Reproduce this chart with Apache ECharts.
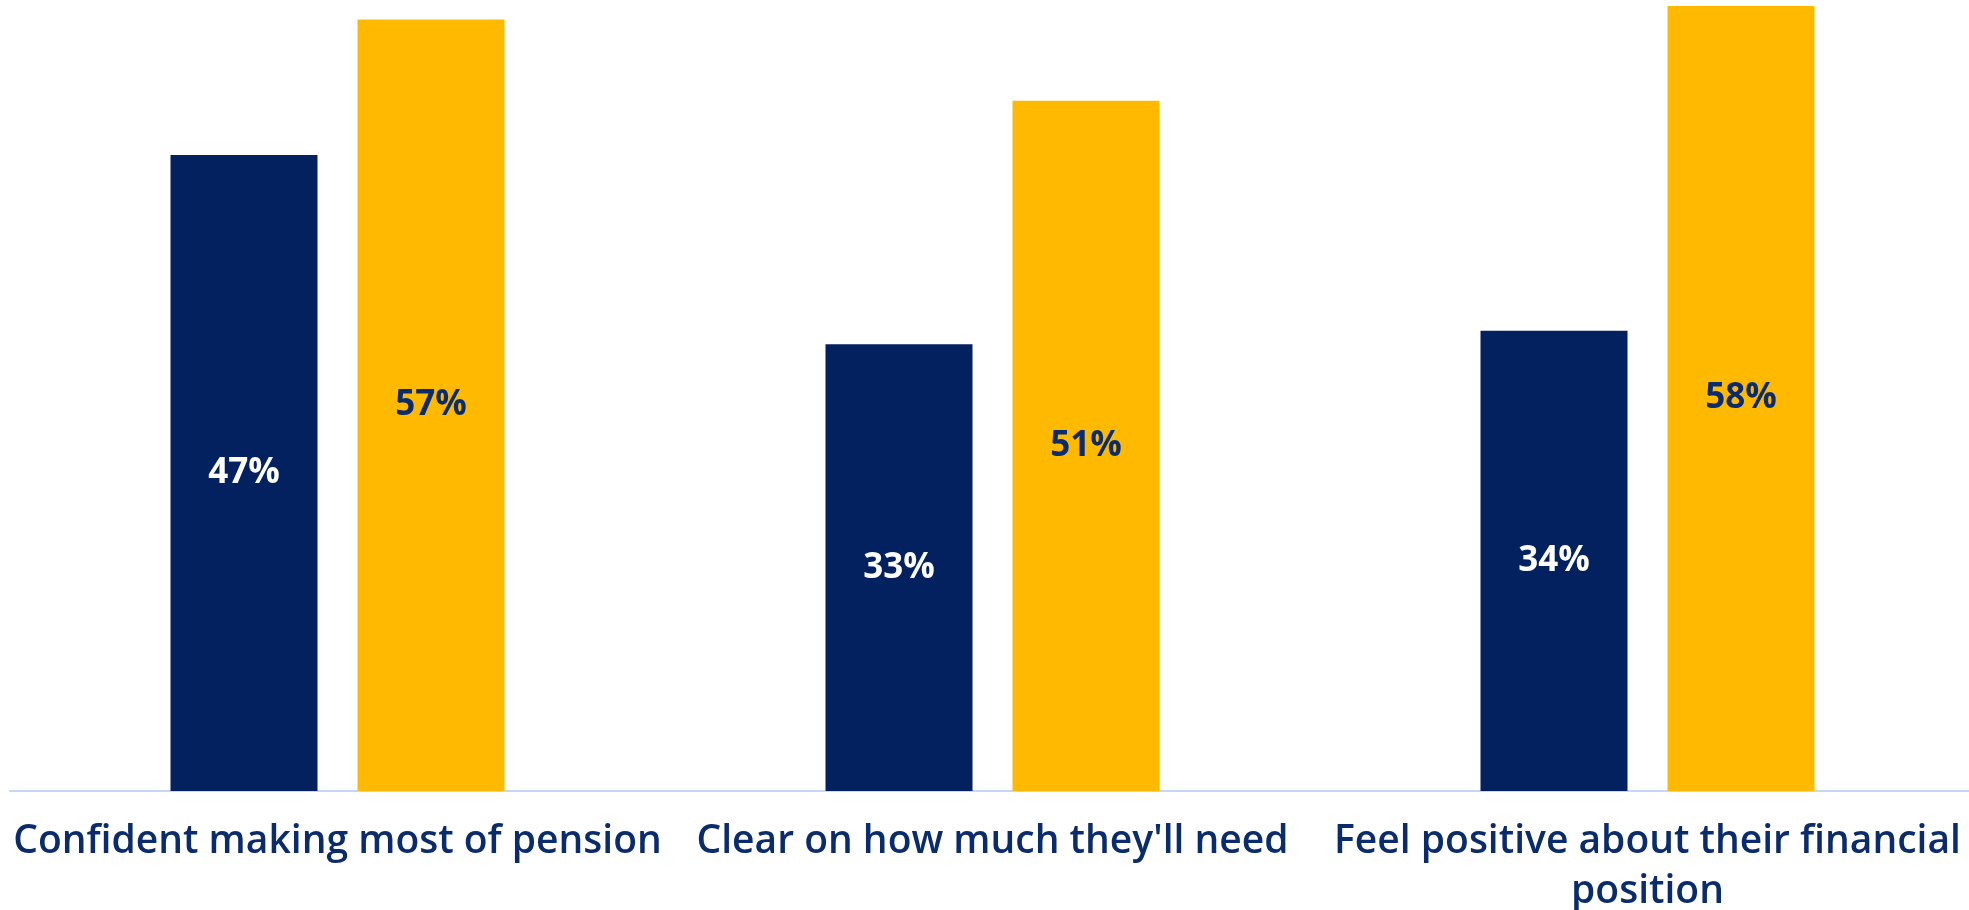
<!DOCTYPE html>
<html>
<head>
<meta charset="utf-8">
<script src="https://cdn.jsdelivr.net/npm/echarts@6/dist/echarts.min.js"></script>
<style>
  html, body { margin: 0; padding: 0; background: #fff; }
  #mychart { width: 1969px; height: 910px; }
</style>
</head>
<body>
<div id="mychart"></div>
<script>
// categories along the x axis
const categories = [
  'Confident making most of pension',
  "Clear on how much they'll need",
  'Feel positive about their financial\nposition'
];
// percentages, dark blue bars then yellow bars
const blueValues = [47, 33, 34];
const yellowValues = [57, 51, 58];

const navy = '#03215f';
const labelNavy = '#0b2c6c';

const myChart = echarts.init(document.getElementById('mychart'));
const option = {
  animation: false,
  grid: {
    left: 10,
    right: -6,
    top: 6,
    bottom: 119,
    outerBoundsMode: 'none',
    containLabel: false
  },
  xAxis: {
    type: 'category',
    data: categories,
    axisTick: { show: false },
    axisLine: {
      lineStyle: { color: '#c9d5f6', width: 2 }
    },
    axisLabel: {
      interval: 0,
      margin: 26,
      color: labelNavy,
      fontFamily: 'Open Sans',
      fontWeight: 600,
      fontSize: 39,
      lineHeight: 50
    }
  },
  yAxis: {
    type: 'value',
    min: 0,
    max: 58,
    show: false,
    splitLine: { show: false }
  },
  series: [
    {
      type: 'bar',
      data: blueValues,
      barWidth: 147,
      barGap: '27.2%',
      itemStyle: { color: navy },
      label: {
        show: true,
        position: 'inside',
        formatter: '{c}%',
        color: '#ffffff',
        fontFamily: 'Open Sans',
        fontWeight: 'bold',
        fontSize: 35
      }
    },
    {
      type: 'bar',
      data: yellowValues,
      barWidth: 147,
      itemStyle: { color: '#ffba00' },
      label: {
        show: true,
        position: 'inside',
        formatter: '{c}%',
        color: labelNavy,
        fontFamily: 'Open Sans',
        fontWeight: 'bold',
        fontSize: 35
      }
    }
  ]
};
myChart.setOption(option);
</script>
</body>
</html>
